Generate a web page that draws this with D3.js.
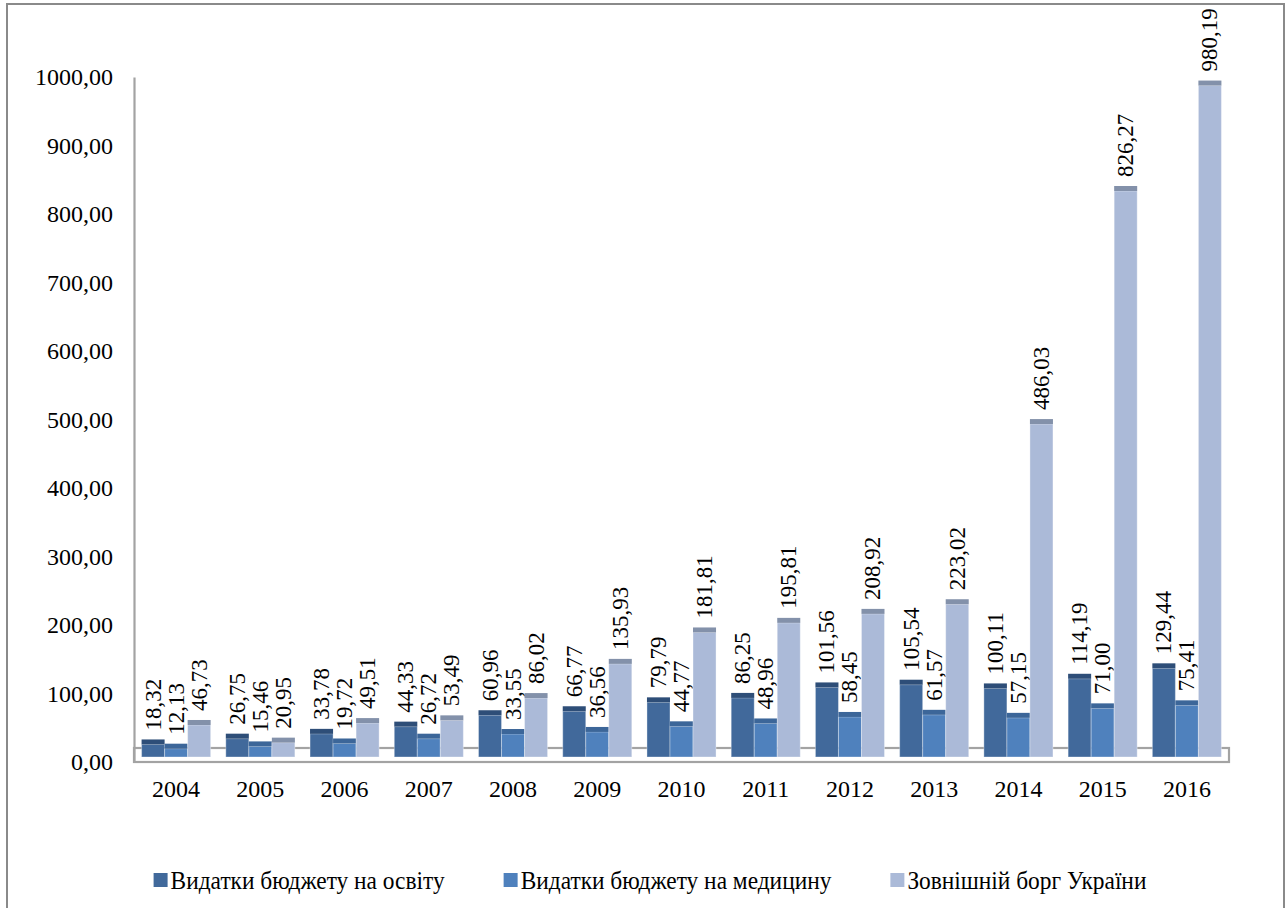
<!DOCTYPE html>
<html>
<head>
<meta charset="utf-8">
<script src="https://cdn.jsdelivr.net/npm/d3@7/dist/d3.min.js"></script>
<style>
  html, body { margin: 0; padding: 0; background: #fff; }
  svg { display: block; }
  svg text { font-family: "Liberation Serif", "Times New Roman", Times, "DejaVu Serif", "Noto Serif", serif; }
</style>
</head>
<body>
<svg id="chart" width="1288" height="908"></svg>
<script>
// Years on the category axis
const years = ["2004","2005","2006","2007","2008","2009","2010","2011","2012","2013","2014","2015","2016"];

// Series names (legend)
const seriesNames = ["Видатки бюджету на освіту", "Видатки бюджету на медицину", "Зовнішній борг України"];

// Series values, per year
const education = [18.32, 26.75, 33.78, 44.33, 60.96, 66.77, 79.79, 86.25, 101.56, 105.54, 100.11, 114.19, 129.44];
const medicine  = [12.13, 15.46, 19.72, 26.72, 33.55, 36.56, 44.77, 48.96, 58.45, 61.57, 57.15, 71.00, 75.41];
const debt      = [46.73, 20.95, 49.51, 53.49, 86.02, 135.93, 181.81, 195.81, 208.92, 223.02, 486.03, 826.27, 980.19];

// Value-axis ticks
const yTicks = [0, 100, 200, 300, 400, 500, 600, 700, 800, 900, 1000];

const seriesValues = [education, medicine, debt];
const frontColors = ["#41699b", "#4f81bd", "#abbad8"];
const capColors   = ["#2e4e78", "#3c6699", "#8391aa"];

const fmt = v => d3.format(".2f")(v).replace(".", ",");

const svg = d3.select("#chart");

// outer frame
svg.append("rect")
  .attr("x", 7).attr("y", 4)
  .attr("width", 1277).attr("height", 1000)
  .attr("fill", "none").attr("stroke", "#8a8a8a").attr("stroke-width", 2);

const plotLeft = 134, plotRight = 1229;
const y = d3.scaleLinear().domain([0, 1000]).range([762, 77]);
const depth = 5; // 3-D shift of the bar plane / thickness of the top face

const x0 = d3.scaleBand().domain(years).range([plotLeft, plotRight])
  .paddingInner(0.18).paddingOuter(0.09);
const x1 = d3.scaleBand().domain(d3.range(seriesValues.length)).range([0, x0.bandwidth()]);

// floor slab
svg.append("rect")
  .attr("x", plotLeft).attr("y", y(0) - 14)
  .attr("width", plotRight - plotLeft).attr("height", 14)
  .attr("fill", "none").attr("stroke", "#a3a3a3").attr("stroke-width", 2.2);

// value axis
const yAxis = d3.axisLeft(y).tickValues(yTicks).tickFormat(fmt).tickSize(0).tickPadding(21);
const gy = svg.append("g").attr("transform", `translate(${plotLeft},0)`).call(yAxis);
gy.attr("font-family", null);
gy.select(".domain").attr("stroke", "#a3a3a3").attr("stroke-width", 2.2);
gy.selectAll("text").attr("font-size", 24).attr("fill", "#000");

// category labels
svg.append("g").selectAll("text").data(years).join("text")
  .attr("x", d => x0(d) + x0.bandwidth() / 2)
  .attr("y", 789)
  .attr("text-anchor", "middle")
  .attr("dominant-baseline", "central")
  .attr("font-size", 24)
  .text(d => d);

// bars
const rows = [];
years.forEach((yr, i) => {
  seriesValues.forEach((vals, s) => rows.push({ year: yr, s, v: vals[i] }));
});

const gBars = svg.append("g");
const bar = gBars.selectAll("g").data(rows).join("g")
  .attr("transform", d => `translate(${x0(d.year) + x1(d.s)},0)`);

bar.append("rect")
  .attr("x", 0).attr("width", x1.bandwidth())
  .attr("y", d => y(d.v) - depth)
  .attr("height", d => y(0) - y(d.v))
  .attr("fill", d => frontColors[d.s])
  .attr("stroke", "rgba(255,255,255,0.35)").attr("stroke-width", 1);

bar.append("rect")
  .attr("x", 0).attr("width", x1.bandwidth())
  .attr("y", d => y(d.v) - 2 * depth)
  .attr("height", depth)
  .attr("fill", d => capColors[d.s]);

// value labels, rotated
bar.append("text")
  .attr("transform", d => `translate(${x1.bandwidth() / 2},${y(d.v) - 2 * depth - 9}) rotate(-90)`)
  .attr("dominant-baseline", "central")
  .attr("font-size", 23)
  .text(d => fmt(d.v));

// legend
const squeeze = 0.9;
const legend = svg.append("g").attr("transform", "translate(0,880)");
const items = legend.selectAll("g").data(seriesNames).join("g");
items.append("rect")
  .attr("x", 0).attr("y", -7).attr("width", 14).attr("height", 14)
  .attr("fill", (d, i) => frontColors[i]);
const labels = items.append("text")
  .attr("transform", `translate(17,0) scale(${squeeze},1)`)
  .attr("dominant-baseline", "central")
  .attr("font-size", 26)
  .text(d => d);

// lay out legend items in a centred row
const gap = 59;
const widths = labels.nodes().map(n => 17 + n.getComputedTextLength() * squeeze);
const total = d3.sum(widths) + gap * (widths.length - 1);
let cx = 650 - total / 2;
items.each(function(d, i) {
  d3.select(this).attr("transform", `translate(${cx},0)`);
  cx += widths[i] + gap;
});
</script>
</body>
</html>
